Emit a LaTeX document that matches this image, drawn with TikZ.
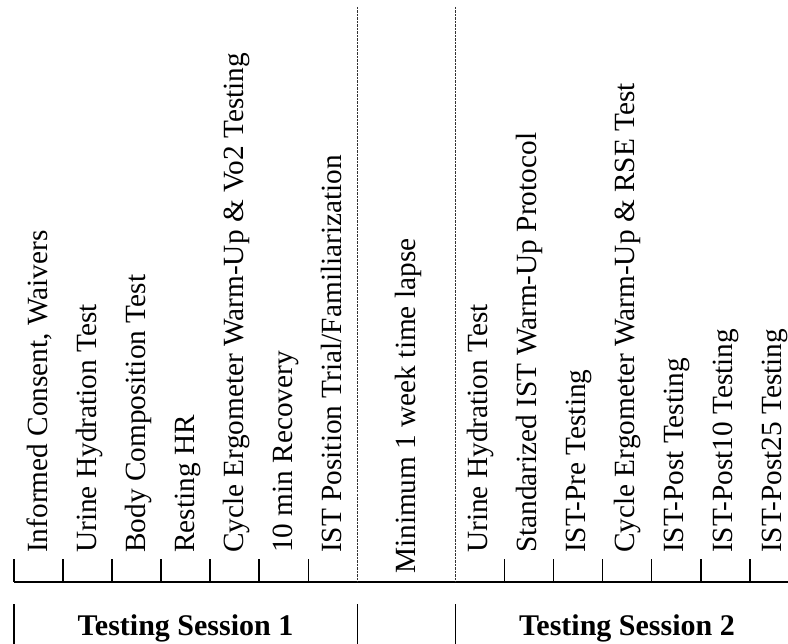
\documentclass[tikz,border=0pt]{standalone}
\usepackage{fontspec}
\setmainfont{Liberation Serif}
\begin{document}
\begin{tikzpicture}[x=1pt,y=-1pt,
  lbl/.style={rotate=90,anchor=base west,inner sep=0pt,font=\fontsize{29.3}{32}\selectfont},
  sess/.style={anchor=base,inner sep=0pt,font=\fontsize{30}{32}\selectfont\bfseries},
  axisline/.style={line width=1.6pt},
  tickline/.style={line width=1.6pt},
  sepline/.style={line width=0.9pt,dash pattern=on 2.5pt off 1pt,black!80},
  barline/.style={line width=1.6pt}]
\useasboundingbox (0,0) rectangle (788,644);
% axis coordinates
\foreach \k in {0,...,15} {
  \coordinate (t\k) at ({14+49.05*\k},582);
  \coordinate (u\k) at ({14+49.05*\k},559);
}
\coordinate (axend) at (788,582);
\coordinate (s7top) at ({14+49.05*7},7);
\coordinate (s9top) at ({14+49.05*9},7);
% axis
\draw[axisline] (t0) -- (axend);
\foreach \k in {0,...,6,10,11,12,13,14,15} {
  \draw[tickline] (t\k) -- (u\k);
}
% separators
\draw[sepline] (s7top) -- (t7);
\draw[sepline] (s9top) -- (t9);
% labels session 1
\node[lbl] (a0) at ({14+49.05*0+33},553) {Informed Consent, Waivers};
\node[lbl] (a1) at ({14+49.05*1+33},553) {Urine Hydration Test};
\node[lbl] (a2) at ({14+49.05*2+33},553) {Body Composition Test};
\node[lbl] (a3) at ({14+49.05*3+33},553) {Resting HR};
\node[lbl] (a4) at ({14+49.05*4+33},553) {Cycle Ergometer Warm-Up \& Vo2 Testing};
\node[lbl] (a5) at ({14+49.05*5+33},553) {10 min Recovery};
\node[lbl] (a6) at ({14+49.05*6+33},553) {IST Position Trial/Familiarization};
% gap label
\node[lbl] (gap) at (415,574) {Minimum 1 week time lapse};
% labels session 2
\node[lbl] (b0) at ({14+49.05*9+32},553) {Urine Hydration Test};
\node[lbl] (b1) at ({14+49.05*10+32},553) {Standarized IST Warm-Up Protocol};
\node[lbl] (b2) at ({14+49.05*11+32},553) {IST-Pre Testing};
\node[lbl] (b3) at ({14+49.05*12+32},553) {Cycle Ergometer Warm-Up \& RSE Test};
\node[lbl] (b4) at ({14+49.05*13+32},553) {IST-Post Testing};
\node[lbl] (b5) at ({14+49.05*14+32},553) {IST-Post10 Testing};
\node[lbl] (b6) at ({14+49.05*15+32},553) {IST-Post25 Testing};
% bottom session bars
\coordinate (p0a) at (14,604);  \coordinate (p0b) at (14,644);
\coordinate (p1a) at ({14+49.05*7},604); \coordinate (p1b) at ({14+49.05*7},644);
\coordinate (p2a) at ({14+49.05*9},604); \coordinate (p2b) at ({14+49.05*9},644);
\draw[barline] (p0a) -- (p0b);
\draw[barline] (p1a) -- (p1b);
\draw[barline] (p2a) -- (p2b);
\node[sess] (ts1) at (185.5,635) {Testing Session 1};
\node[sess] (ts2) at (627,635) {Testing Session 2};
\end{tikzpicture}
\end{document}
